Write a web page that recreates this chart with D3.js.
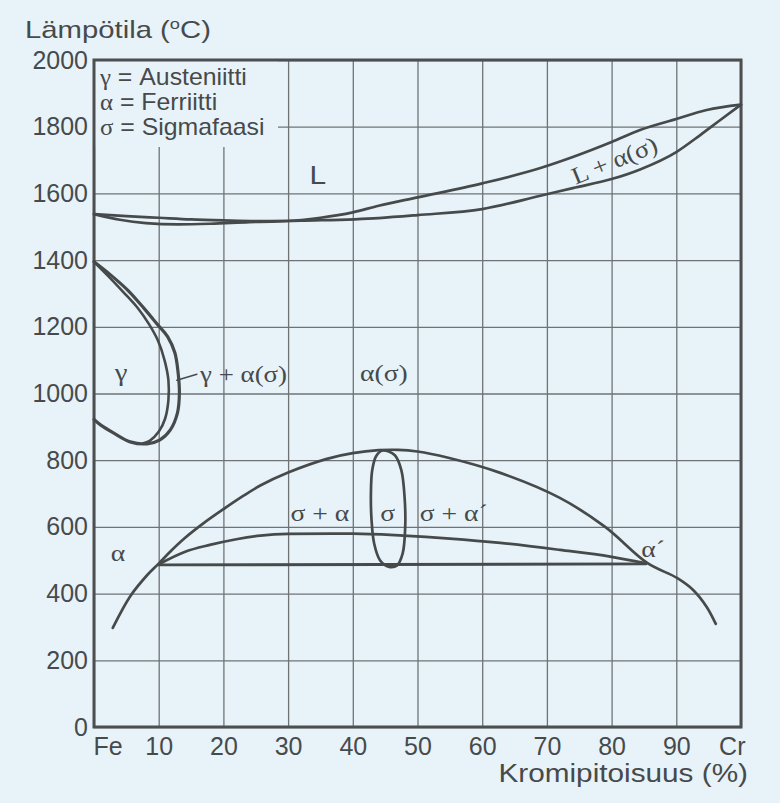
<!DOCTYPE html>
<html>
<head>
<meta charset="utf-8">
<script src="https://cdn.jsdelivr.net/npm/d3@7"></script>
<style>
  html, body { margin: 0; padding: 0; background: #e7f3f9; }
  svg { display: block; }
</style>
</head>
<body>
<svg id="chart" width="780" height="803"></svg>
<script>
// Fe–Cr equilibrium phase diagram (chromium content vs. temperature)

// axis ticks
const xTickValues = [0, 10, 20, 30, 40, 50, 60, 70, 80, 90, 100];
const xEndNames = { 0: "Fe", 100: "Cr" };
const yTickValues = [0, 200, 400, 600, 800, 1000, 1200, 1400, 1600, 1800, 2000];

// phase boundaries: [Cr %, °C]
const liquidus = [
  [0, 1538], [5, 1532], [10, 1527], [15, 1522], [20, 1519], [25, 1517], [30, 1518],
  [35, 1527], [40, 1543], [44, 1563], [50, 1588], [60, 1630], [69, 1676], [74, 1709],
  [80, 1754], [84.4, 1790], [90, 1823], [94.7, 1850], [100, 1866]
];
const solidus = [
  [0, 1538], [4, 1521], [8, 1511], [13, 1507], [18, 1509], [24, 1514], [32, 1518],
  [44, 1526], [50, 1535], [60, 1553], [69, 1593], [74, 1616], [80, 1643], [84.4, 1672],
  [90, 1724], [93.7, 1775], [96.8, 1820], [100, 1866]
];
const gammaOuter = [
  [0, 922], [1, 906], [3, 882], [5.6, 855], [8.2, 849], [10.2, 861], [11.8, 891],
  [12.9, 942], [13.2, 1002], [13, 1062], [12.5, 1122], [11.4, 1170], [9.9, 1205],
  [7.7, 1256], [5.2, 1310], [2.6, 1355], [0, 1395]
];
const gammaInner = [
  [0, 1395], [2.2, 1352], [4.5, 1305], [6.7, 1258], [8.5, 1208], [9.9, 1158],
  [10.9, 1100], [11.5, 1040], [11.5, 980], [11.0, 925], [10, 885], [8.6, 858], [7.5, 850]
];
const alphaBoundary = [
  [2.9, 297], [5.6, 392], [8.2, 455], [10, 490], [12, 530], [14, 566], [17, 612],
  [20, 653], [23, 692], [25.7, 724], [30, 763], [36, 804], [40, 821], [44, 830],
  [47, 831], [50, 826], [54.6, 808], [62.8, 762], [72, 687], [79, 600], [85.5, 492],
  [90.1, 447], [92.6, 411], [94.7, 360], [96.1, 309]
];
const sigmaSolvus = [
  [10, 488], [14, 525], [17.9, 546], [22, 563], [25.7, 574], [30, 579], [40, 580],
  [47.8, 574], [55, 565], [62.8, 552], [72, 531], [79.8, 511], [85.3, 491]
];
const eutectoidLine = [[10, 486], [85.3, 489]];
const sigmaField = [
  [44.6, 829], [43.6, 812], [43.0, 770], [42.8, 700], [42.9, 620], [43.3, 550],
  [44.2, 500], [45.5, 481], [46.8, 484], [47.7, 520], [48.1, 600], [48.0, 690],
  [47.5, 770], [46.5, 815]
];

// legend and phase-field labels
const legendSymbols = ["γ", "α", "σ"];
const legendNames = ["Austeniitti", "Ferriitti", "Sigmafaasi"];
const fieldLabels = [
  { text: "L",         cr: 34.6, t: 1655, serif: false, size: 26 },
  { text: "γ",         cr: 4.2,  t: 1064, serif: true,  size: 25 },
  { text: "α(σ)",      cr: 44.8, t: 1064, serif: true,  size: 24 },
  { text: "σ + α",     cr: 34.9, t: 642,  serif: true,  size: 24 },
  { text: "σ",         cr: 45.4, t: 642,  serif: true,  size: 24 },
  { text: "σ + α´",    cr: 55.6, t: 642,  serif: true,  size: 24 },
  { text: "α",         cr: 3.7,  t: 522,  serif: true,  size: 24 },
  { text: "α´",        cr: 86.4, t: 534,  serif: true,  size: 24 }
];

const bg = "#e7f3f9";
const ink = "#474a4b";
const gridInk = "#6f7375";
const sans = "'Liberation Sans', Arial, sans-serif";
const serif = "'Liberation Serif', 'Times New Roman', serif";

const svg = d3.select("#chart");
const x = d3.scaleLinear().domain([0, 100]).range([94, 741]);
const y = d3.scaleLinear().domain([0, 2000]).range([727, 60]);
const plotW = x(100) - x(0), plotH = y(0) - y(2000);

svg.append("rect").attr("width", 780).attr("height", 803).attr("fill", bg);

// grid + y tick labels
const yAxis = svg.append("g")
  .attr("transform", `translate(${x(0)},0)`)
  .call(d3.axisLeft(y).tickValues(yTickValues).tickFormat(d3.format("d"))
    .tickSizeInner(-plotW).tickSizeOuter(0).tickPadding(6));
yAxis.select(".domain").remove();
yAxis.selectAll("line").attr("stroke", gridInk).attr("stroke-width", 1.3);
yAxis.selectAll("text").attr("font-family", sans).attr("font-size", 25).attr("fill", ink);

// grid + x tick labels
const xAxis = svg.append("g")
  .attr("transform", `translate(0,${y(0)})`)
  .call(d3.axisBottom(x).tickValues(xTickValues).tickSizeInner(-plotH).tickSizeOuter(0).tickPadding(10)
    .tickFormat(d => xEndNames[d] || d));
xAxis.select(".domain").remove();
xAxis.selectAll("line").attr("stroke", gridInk).attr("stroke-width", 1.3);
xAxis.selectAll("text").attr("font-family", sans).attr("font-size", 25).attr("fill", ink)
  .attr("text-anchor", d => d === 0 ? "start" : d === 100 ? "end" : "middle")
  .attr("dx", d => d === 0 ? -1 : d === 100 ? 4 : 0);

// legend panel hides the grid behind it
svg.append("rect")
  .attr("x", x(0) + 1).attr("y", y(2000) + 1)
  .attr("width", 183).attr("height", 86)
  .attr("fill", bg);

// plot frame
svg.append("rect")
  .attr("x", x(0)).attr("y", y(2000))
  .attr("width", plotW).attr("height", plotH)
  .attr("fill", "none").attr("stroke", "#4c4e4f").attr("stroke-width", 3);

// phase boundaries
const smooth = d3.line().x(d => x(d[0])).y(d => y(d[1])).curve(d3.curveMonotoneX);
const loop = d3.line().x(d => x(d[0])).y(d => y(d[1])).curve(d3.curveCatmullRom.alpha(0.5));
const closed = d3.line().x(d => x(d[0])).y(d => y(d[1])).curve(d3.curveCatmullRomClosed.alpha(0.5));
const curves = svg.append("g").attr("fill", "none").attr("stroke", ink)
  .attr("stroke-linecap", "round").attr("stroke-linejoin", "round");
[liquidus, solidus, sigmaSolvus].forEach(c =>
  curves.append("path").attr("d", smooth(c)).attr("stroke-width", 2.7));
curves.append("path").attr("d", loop(alphaBoundary)).attr("stroke-width", 2.7);
curves.append("path").attr("d", smooth(eutectoidLine)).attr("stroke-width", 2.9);
curves.append("path").attr("d", loop(gammaOuter)).attr("stroke-width", 3.2);
curves.append("path").attr("d", loop(gammaInner)).attr("stroke-width", 2.6);
curves.append("path").attr("d", closed(sigmaField)).attr("stroke-width", 2.7);

// leader from the two-phase γ + α band to its label
curves.append("path")
  .attr("d", loop([[12.8, 1040], [15.9, 1058]]))
  .attr("stroke-width", 1.5);

// text helper: horizontally widened lettering
function putText(g, px, py, str, opts) {
  const t = g.append("text")
    .attr("transform", `translate(${px},${py}) rotate(${opts.rotate || 0}) scale(${opts.sx || 1},1)`)
    .attr("text-anchor", opts.anchor || "middle")
    .attr("dy", opts.dy != null ? opts.dy : "0.35em")
    .attr("font-family", opts.family || sans)
    .attr("font-size", opts.size || 24)
    .attr("fill", ink);
  if (str != null) t.text(str);
  return t;
}

// phase-field labels
fieldLabels.forEach(l => {
  putText(svg, x(l.cr), y(l.t), l.text, { family: l.serif ? serif : sans, size: l.size, sx: 1.15 });
});
putText(svg, x(16.4), y(1061), "γ + α(σ)", { family: serif, size: 24, anchor: "start", sx: 1.12 });
putText(svg, x(80.4), y(1700), "L + α(σ)", { family: serif, size: 24, sx: 1.12, rotate: -22 });

// axis titles
const title = putText(svg, 25, 38, null, { anchor: "start", size: 24, sx: 1.22, dy: 0 });
title.append("tspan").text("Lämpötila (");
title.append("tspan").attr("font-size", 15).attr("dy", -9).text("o");
title.append("tspan").attr("dy", 9).text("C)");
putText(svg, 748, 782, "Kromipitoisuus (%)", { anchor: "end", size: 25, sx: 1.19, dy: 0 });

// legend
legendSymbols.forEach((s, i) => {
  const t = putText(svg, 100, 85 + i * 25, null, { anchor: "start", size: 23, sx: 1.08, dy: 0 });
  t.append("tspan").attr("font-family", serif).attr("font-size", 23).text(s);
  t.append("tspan").text(" = " + legendNames[i]);
});
</script>
</body>
</html>
